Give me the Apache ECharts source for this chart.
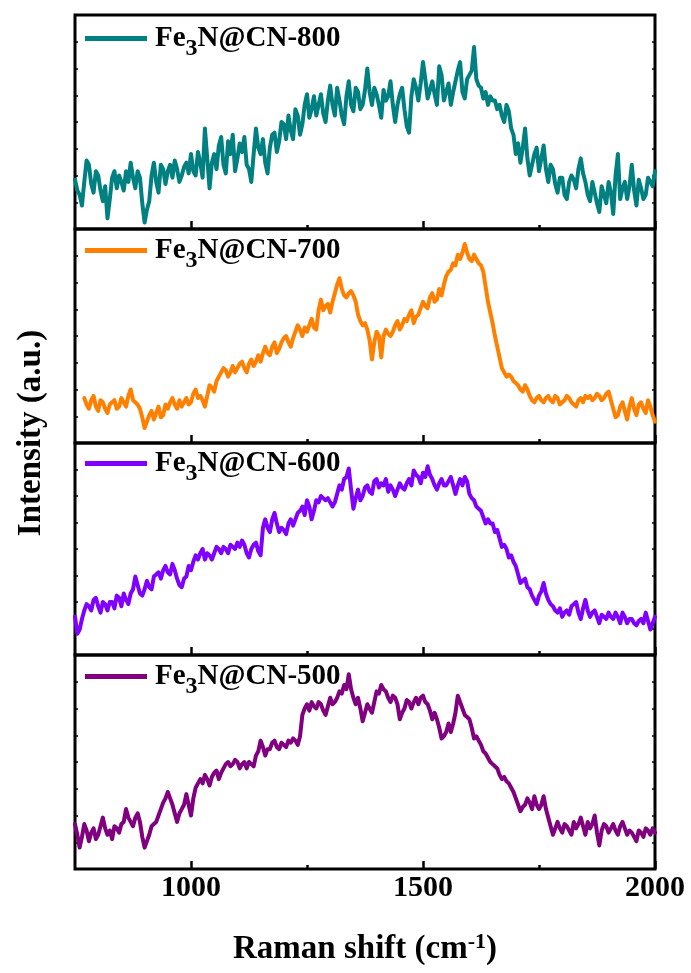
<!DOCTYPE html>
<html><head><meta charset="utf-8">
<script src="https://cdn.jsdelivr.net/npm/echarts@6/dist/echarts.min.js"></script>
<style>html,body{margin:0;padding:0;background:#fff}#c{width:691px;height:973px}</style>
</head><body><div id="c"></div>
<script>
// Raman shift sampling (cm-1) and intensities (a.u., each panel normalised 0-100), one value per 5 cm-1
const seriesNames = ['Fe3N@CN-800', 'Fe3N@CN-700', 'Fe3N@CN-600', 'Fe3N@CN-500'];
const seriesColors = ['#008080', '#FF8000', '#8000FF', '#800080'];
const startShift = [750, 770, 750, 750];
const shiftStep = 5;
const cn800 = [
  23,18,16,11,22,32,30,21,17,27, 25,18,13,20,5,14,24,27,19,25,
  22,18,27,22,31,24,19,27,24,12, 3,9,13,25,31,22,17,30,28,21,
  27,30,24,32,28,22,25,29,31,26, 35,27,25,36,31,24,47,33,19,31,
  35,28,39,43,30,26,41,35,44,27, 33,40,36,43,30,28,22,35,47,38,
  35,42,31,26,38,44,45,36,41,50, 49,42,53,46,42,56,53,44,49,58,
  63,52,56,62,53,58,63,54,50,60, 67,58,53,66,60,53,49,62,69,58,
  55,66,64,56,58,65,75,64,58,66, 63,58,52,65,60,62,69,58,50,58,
  63,66,56,48,45,62,70,66,60,68, 78,70,61,65,69,63,58,76,72,60,
  64,68,58,64,69,74,78,64,61,70, 72,74,85,70,67,66,61,64,58,62,
  60,60,56,58,53,50,58,55,47,44, 35,40,31,38,47,33,25,30,35,38,
  27,33,39,28,22,30,28,21,17,24, 24,16,14,22,25,23,19,28,33,26,
  22,16,13,22,17,12,8,20,16,12, 22,17,7,25,35,14,19,22,14,20,
  30,18,11,23,19,14,16,24,22,20, 27];
const cn700 = [
  21,18,16,20,22,17,15,20,19,16, 14,18,19,20,16,17,21,19,17,22,
  25,20,19,18,16,12,7,10,13,15, 11,14,17,12,13,18,16,19,21,18,
  16,20,17,19,21,18,19,23,25,21, 22,20,17,22,27,26,24,29,31,33,
  35,34,31,33,36,33,35,37,38,35, 33,37,39,36,38,41,38,42,45,42,
  41,45,47,42,44,47,49,50,47,45, 49,52,55,53,50,54,52,55,58,54,
  53,62,67,62,64,65,61,66,70,74, 77,72,69,68,70,71,69,66,60,57,
  55,56,53,48,39,47,52,50,40,50, 53,51,50,52,55,57,53,55,58,57,
  60,62,56,59,60,63,66,64,63,68, 70,66,67,72,69,74,78,80,81,84,
  83,88,86,89,93,89,86,85,88,86, 84,83,80,73,66,61,56,50,45,40,
  35,33,31,32,31,29,28,27,25,24, 27,25,22,20,19,21,22,20,19,21,
  22,20,19,22,21,18,19,20,22,21, 19,18,17,20,21,19,22,21,22,20,
  21,23,22,20,21,23,24,20,16,12, 13,17,19,15,11,17,21,16,13,18,
  19,16,14,20,17,13,10];
const cn600 = [
  18,10,12,17,21,24,23,21,26,27, 23,20,25,24,21,25,25,22,28,27,
  23,29,26,24,29,31,37,33,29,28, 31,35,32,31,37,38,39,36,40,42,
  39,38,43,40,36,33,32,36,37,42, 40,44,47,45,48,50,45,48,47,45,
  48,51,50,48,51,50,48,52,51,50, 53,51,54,52,48,46,50,52,53,49,
  47,60,64,60,58,64,67,62,58,60, 59,57,62,64,61,64,67,68,70,66,
  73,70,64,68,73,72,75,74,73,74, 72,70,72,76,80,78,83,84,88,78,
  69,74,78,73,75,79,80,77,76,82, 83,79,81,80,83,77,80,78,75,78,
  81,79,78,81,83,80,87,85,84,81, 86,84,89,85,83,80,78,81,83,80,
  80,82,84,80,76,80,83,80,84,82, 76,74,73,70,69,68,65,62,64,62,
  62,58,59,55,51,52,50,46,47,44, 42,38,34,35,36,32,31,28,26,24,
  28,30,34,29,26,24,23,21,20,22, 18,20,21,19,23,24,25,20,17,22,
  26,21,18,20,21,18,15,19,18,17, 20,18,17,20,18,15,20,18,15,17,
  17,15,14,16,17,15,20,16,12,15, 18];
const cn500 = [
  21,16,10,15,21,18,13,17,19,14, 16,20,24,19,16,18,14,20,19,17,
  21,22,28,24,22,20,24,26,22,15, 10,13,16,20,21,22,25,28,31,33,
  36,33,30,26,22,26,28,30,35,30, 25,33,38,40,42,40,44,42,39,43,
  45,46,42,45,47,49,50,48,49,51, 50,47,49,50,47,50,49,48,53,55,
  60,57,53,56,56,59,60,57,56,59, 58,57,60,59,61,60,58,62,72,75,
  77,74,78,76,75,78,77,74,72,76, 80,77,78,80,83,82,86,84,91,84,
  80,77,80,75,69,73,77,75,73,78, 83,82,86,84,83,80,78,81,80,77,
  70,73,75,79,78,75,78,80,77,80, 81,78,77,74,70,73,70,66,61,62,
  64,68,64,68,73,81,78,75,72,71, 70,66,61,62,60,58,55,54,52,50,
  49,48,47,44,42,43,41,40,38,36, 33,30,27,29,30,33,31,28,34,30,
  28,30,34,28,24,20,16,19,22,19, 17,21,20,18,16,22,19,21,24,20,
  16,22,19,21,25,17,11,18,21,20, 17,19,21,18,16,20,22,19,16,18,
  17,15,13,18,17,15,19,18,16,19, 17];
const xTickLabels = [1000, 1500, 2000];
const xMinorTicks = [1250, 1750];
const xTitle = 'Raman shift (cm';
const yTitle = 'Intensity (a.u.)';

const allValues = [cn800, cn700, cn600, cn500];
const FONT = 'Liberation Serif';
const panelTops = [15, 229, 443, 655];
const panelHeights = [214, 214, 212, 214];
const legendTops = [24, 236, 449, 662];

const chart = echarts.init(document.getElementById('c'));
const grid = [], xAxis = [], yAxis = [], series = [], legend = [];
allValues.forEach((vals, i) => {
  grid.push({left: 75, right: 36, top: panelTops[i], height: panelHeights[i], show: true,
    borderColor: '#000', borderWidth: 3, backgroundColor: 'transparent'});
  const last = i === 3;
  xAxis.push({type: 'value', gridIndex: i, min: 750, max: 2000, interval: 250, position: 'bottom',
    axisLine: {show: false}, splitLine: {show: false},
    axisTick: {show: true, inside: true, length: 8, customValues: xTickLabels, lineStyle: {color: '#000', width: 2.5}},
    axisLabel: {show: last, customValues: xTickLabels, formatter: v => String(v),
      fontFamily: FONT, fontWeight: 'bold', fontSize: 30, color: '#000', margin: 4},
    name: last ? '{a|' + xTitle + '}{b|-1}{a|)}' : '', nameLocation: 'middle', nameGap: 62,
    nameTextStyle: {rich: {
      a: {fontFamily: FONT, fontWeight: 'bold', fontSize: 33, color: '#000', lineHeight: 36},
      b: {fontFamily: FONT, fontWeight: 'bold', fontSize: 22, color: '#000', lineHeight: 22, verticalAlign: 'top'}
    }}
  });
  xAxis.push({type: 'value', gridIndex: i, min: 750, max: 2000, interval: 250, position: 'bottom',
    axisLine: {show: false}, splitLine: {show: false}, axisLabel: {show: false},
    axisTick: {show: true, inside: true, length: 4, customValues: xMinorTicks, lineStyle: {color: '#000', width: 2.5}}});
  ['left', 'right'].forEach(pos => {
    yAxis.push({type: 'value', gridIndex: i, min: 0, max: 100, interval: 12.5, position: pos,
      axisLine: {show: false}, splitLine: {show: false}, axisLabel: {show: false},
      axisTick: {show: true, inside: true, length: 3, lineStyle: {color: '#000', width: 1.5}}});
  });
  const data = vals.map((v, k) => [startShift[i] + k * shiftStep, v]);
  series.push({name: seriesNames[i], type: 'line', xAxisIndex: 2 * i, yAxisIndex: 2 * i,
    data: data, showSymbol: false, symbol: 'none', lineStyle: {width: 4, color: seriesColors[i], join: 'round', cap: 'round'},
    itemStyle: {color: seriesColors[i]}, z: 3});
  legend.push({data: [seriesNames[i]], left: 85, top: legendTops[i], padding: 0, icon: 'rect',
    itemWidth: 62, itemHeight: 5, itemGap: 0, selectedMode: false,
    formatter: name => '{f|Fe}{s|3}{t|' + name.slice(3) + '}',
    textStyle: {rich: {
      f: {fontFamily: FONT, fontWeight: 'bold', fontSize: 29, color: '#000', lineHeight: 44, padding: [0, 0, 0, 3]},
      t: {fontFamily: FONT, fontWeight: 'bold', fontSize: 29, color: '#000', lineHeight: 44},
      s: {fontFamily: FONT, fontWeight: 'bold', fontSize: 24, color: '#000', lineHeight: 24, verticalAlign: 'bottom'}
    }}});
});

chart.setOption({
  animation: false,
  backgroundColor: '#fff',
  grid, xAxis, yAxis, series, legend,
  graphic: [{type: 'text', x: 31, y: 433, rotation: Math.PI / 2,
    style: {text: yTitle, fontFamily: FONT, fontWeight: 'bold', fontSize: 33, fill: '#000', align: 'center', verticalAlign: 'middle'}}]
});
</script></body></html>
